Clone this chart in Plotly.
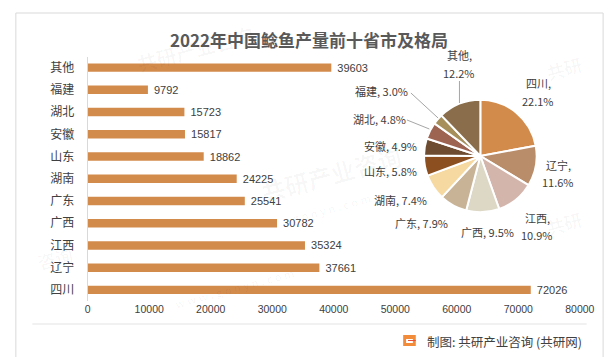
import plotly.graph_objects as go

W, H = 614, 357

# ---- data ----
bar_categories = ["四川", "辽宁", "江西", "广西", "广东", "湖南", "山东", "安徽", "湖北", "福建", "其他"]
bar_values = [72026, 37661, 35324, 30782, 25541, 24225, 18862, 15817, 15723, 9792, 39603]
x_tick_values = [0, 10000, 20000, 30000, 40000, 50000, 60000, 70000, 80000]
x_tick_labels = ["0", "10000", "20000", "30000", "40000", "50000", "60000", "70000", "80000"]

pie_labels = ["四川", "辽宁", "江西", "广西", "广东", "湖南", "山东", "安徽", "湖北", "福建", "其他"]
pie_shares = [22.1, 11.6, 10.9, 9.5, 7.9, 7.4, 5.8, 4.9, 4.8, 3.0, 12.2]
pie_colors = ["#D38B4C", "#B98C6A", "#D4B5AB", "#DDD8C6", "#C8B396", "#F6D9A1",
              "#8C5020", "#6E4C31", "#9E6452", "#A68F5A", "#8A6E4B"]

title_text = "2022年中国鲶鱼产量前十省市及格局"
source_text = "制图: 共研产业咨询 (共研网)"

CJK = "Noto Sans CJK SC"


def px(x):
    return x / W


def py(y):
    return 1 - y / H


fig = go.Figure()

fig.add_trace(go.Bar(
    y=bar_categories, x=bar_values, orientation="h",
    marker=dict(color="#D38B4C", line=dict(width=0)),
    text=[" " + str(v) for v in bar_values], textposition="outside",
    constraintext="none",
    textfont=dict(family="Liberation Sans, Arial", size=11, color="#404040"),
    cliponaxis=False, hoverinfo="skip", showlegend=False,
))

fig.add_trace(go.Pie(
    labels=pie_labels, values=pie_shares, sort=False, direction="clockwise", rotation=0,
    marker=dict(colors=pie_colors, line=dict(color="white", width=2)),
    textinfo="none", hoverinfo="skip", showlegend=False,
    domain=dict(x=[px(425.5), px(541.5)], y=[py(206), py(90)]),
))

# ---- pie labels (positions in pixels) ----
label_pos = {
    "四川": (543, 75, 93, True),
    "辽宁": (564, 157, 174, True),
    "江西": (542, 210, 227, True),
    "其他": (462, 47, 65, True),
    "广西": (491, 224, None, False),
    "广东": (423, 215, None, False),
    "湖南": (401, 192, None, False),
    "山东": (391, 163, None, False),
    "安徽": (391, 138, None, False),
    "湖北": (380, 111, None, False),
    "福建": (382, 83, None, False),
}
annotations = []
for lab, share in zip(pie_labels, pie_shares):
    x, y1, y2, two = label_pos[lab]
    f = dict(family=CJK, size=11, color="#404040")
    if two:
        annotations.append(dict(x=px(x), y=py(y1), xref="paper", yref="paper", text=lab + ",",
                                showarrow=False, font=f, xanchor="center", yanchor="middle"))
        annotations.append(dict(x=px(x), y=py(y2), xref="paper", yref="paper", text=f"{share:.1f}%",
                                showarrow=False, font=f, xanchor="center", yanchor="middle"))
    else:
        annotations.append(dict(x=px(x), y=py(y1), xref="paper", yref="paper", text=f"{lab}, {share:.1f}%",
                                showarrow=False, font=f, xanchor="center", yanchor="middle"))

annotations.append(dict(x=px(306.5), y=py(31), xref="paper", yref="paper", text="<b>" + title_text + "</b>",
                        showarrow=False, font=dict(family=CJK, size=17, color="#595959"),
                        xanchor="center", yanchor="middle"))
annotations.append(dict(x=px(426), y=py(333), xref="paper", yref="paper", text=source_text,
                        showarrow=False, font=dict(family=CJK, size=12.5, color="#404040"),
                        xanchor="left", yanchor="middle"))

# faint watermarks
wm = [
    ("共研产业咨询", 190, 40, 20), ("共研产业咨询", 330, 165, 24),
    ("g o n y n . c o m", 330, 200, 11), ("共研", 570, 215, 18),
    ("w w w . g o n y n . c o m", 230, 280, 11),
    ("咨询", 45, 250, 18), ("共研", 570, 60, 18),
]
for t, x, y, s in wm:
    annotations.append(dict(x=px(x), y=py(y), xref="paper", yref="paper", text="<b>" + t + "</b>",
                            showarrow=False, textangle=-15,
                            font=dict(family=CJK, size=s, color="rgba(0,0,0,0.03)"),
                            xanchor="center", yanchor="middle"))

shapes = [
    # outer border
    dict(type="rect", xref="paper", yref="paper", x0=px(5), x1=px(610), y0=py(350), y1=py(5),
         line=dict(color="#D9D9D9", width=1)),
    # separator line
    dict(type="line", xref="paper", yref="paper", x0=px(22), x1=px(593), y0=py(316), y1=py(316),
         line=dict(color="#E3E3E3", width=1)),
    # leader lines
    dict(type="line", xref="paper", yref="paper", x0=px(462), x1=px(462), y0=py(73), y1=py(95),
         line=dict(color="#A6A6A6", width=1)),
    dict(type="line", xref="paper", yref="paper", x0=px(412), x1=px(440), y0=py(85), y1=py(110),
         line=dict(color="#A6A6A6", width=1)),
    dict(type="line", xref="paper", yref="paper", x0=px(408), x1=px(431), y0=py(112), y1=py(121),
         line=dict(color="#A6A6A6", width=1)),
    # logo
    dict(type="rect", xref="paper", yref="paper", x0=px(404), x1=px(417), y0=py(338), y1=py(327),
         fillcolor="#F28C3A", line=dict(width=0)),
    dict(type="rect", xref="paper", yref="paper", x0=px(407), x1=px(414), y0=py(335), y1=py(331),
         fillcolor="#FFFFFF", line=dict(width=0)),
    dict(type="rect", xref="paper", yref="paper", x0=px(409), x1=px(417), y0=py(333), y1=py(332),
         fillcolor="#E8503A", line=dict(width=0)),
]

fig.update_layout(
    width=W, height=H, margin=dict(l=0, r=0, t=0, b=0),
    paper_bgcolor="white", plot_bgcolor="rgba(0,0,0,0)",
    bargap=0.62,
    xaxis=dict(domain=[px(79), px(586)], range=[0, 80000], tickvals=x_tick_values,
               ticktext=x_tick_labels,
               showgrid=False, zeroline=False, showline=False, ticks="",
               tickfont=dict(family="Liberation Sans, Arial", size=10.5, color="#404040"),
               anchor="y"),
    yaxis=dict(domain=[py(293), py(48.5)], categoryorder="array", categoryarray=bar_categories,
               showgrid=False, zeroline=False, showline=True, linecolor="#D9D9D9", linewidth=1,
               ticks="", ticklabelstandoff=10,
               tickfont=dict(family=CJK, size=12, color="#404040")),
    annotations=annotations, shapes=shapes,
)

fig.write_html("out.html")
